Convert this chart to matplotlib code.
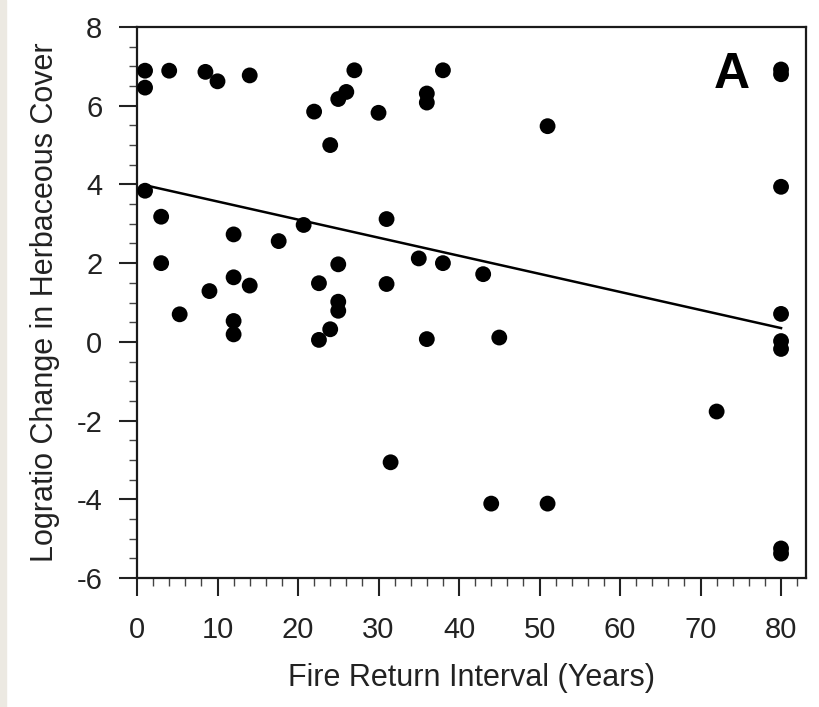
import matplotlib.pyplot as plt
from matplotlib.patches import Rectangle
from matplotlib.ticker import MultipleLocator

plt.rcParams['font.family'] = ['Liberation Sans', 'DejaVu Sans']
plt.rcParams['axes.unicode_minus'] = False

# fire return interval (years) vs logratio change in herbaceous cover
interval = [1, 1, 4, 8.5, 10, 14, 27, 26, 25, 22, 30, 24,
            1, 3, 12, 17.6, 20.7, 31, 35, 3, 25, 12, 14, 9,
            22.6, 31, 5.3, 25, 25, 12, 12, 24, 22.6,
            38, 36, 36, 51, 38, 43, 36, 45,
            31.5, 72, 44, 51,
            80, 80, 80, 80, 80, 80, 80, 80]
logratio = [6.89, 6.46, 6.89, 6.86, 6.62, 6.77, 6.90, 6.35, 6.17, 5.85, 5.82, 5.00,
            3.84, 3.18, 2.73, 2.56, 2.97, 3.12, 2.12, 2.00, 1.97, 1.64, 1.43, 1.29,
            1.49, 1.47, 0.70, 1.02, 0.79, 0.53, 0.19, 0.32, 0.05,
            6.90, 6.31, 6.08, 5.48, 2.00, 1.72, 0.07, 0.11,
            -3.06, -1.77, -4.11, -4.11,
            6.92, 6.80, 3.94, 0.71, 0.02, -0.18, -5.25, -5.38]

# regression line
fit_x = [1, 80]
fit_y = [3.98, 0.35]

fig = plt.figure(figsize=(8.2, 7.07), dpi=100)
fig.patches.append(Rectangle((0, 0), 6 / 820, 1, transform=fig.transFigure,
                             color='#ECE9E2', zorder=0))
ax = fig.add_axes([137 / 820, 1 - 578 / 707, (806 - 137) / 820, (578 - 27) / 707])

ax.scatter(interval, logratio, s=130, c='black', edgecolors='none', zorder=3)
ax.plot(fit_x, fit_y, color='black', linewidth=1.8, zorder=2)

ax.set_xlim(0, 83.1)
ax.set_ylim(-6, 8)
ax.xaxis.set_major_locator(MultipleLocator(10))
ax.xaxis.set_minor_locator(MultipleLocator(2))
ax.yaxis.set_major_locator(MultipleLocator(2))
ax.yaxis.set_minor_locator(MultipleLocator(0.5))
ax.tick_params(which='major', length=13, width=1.5, labelsize=21, colors='#222222')
ax.tick_params(which='minor', length=6, width=1.0, color='#444444')
ax.tick_params(axis='x', which='major', pad=14)
ax.tick_params(axis='y', which='major', pad=12)

for s in ax.spines.values():
    s.set_linewidth(1.6)
    s.set_color('#1a1a1a')

ax.set_xlabel('Fire Return Interval (Years)', fontsize=22, color='#222222', labelpad=14)
ax.set_ylabel('Logratio Change in Herbaceous Cover', fontsize=22, color='#222222', labelpad=12)

ax.text(73.9, 6.78, 'A', fontsize=36, fontweight='bold', ha='center', va='center')

fig.savefig('out.png', dpi=100)
